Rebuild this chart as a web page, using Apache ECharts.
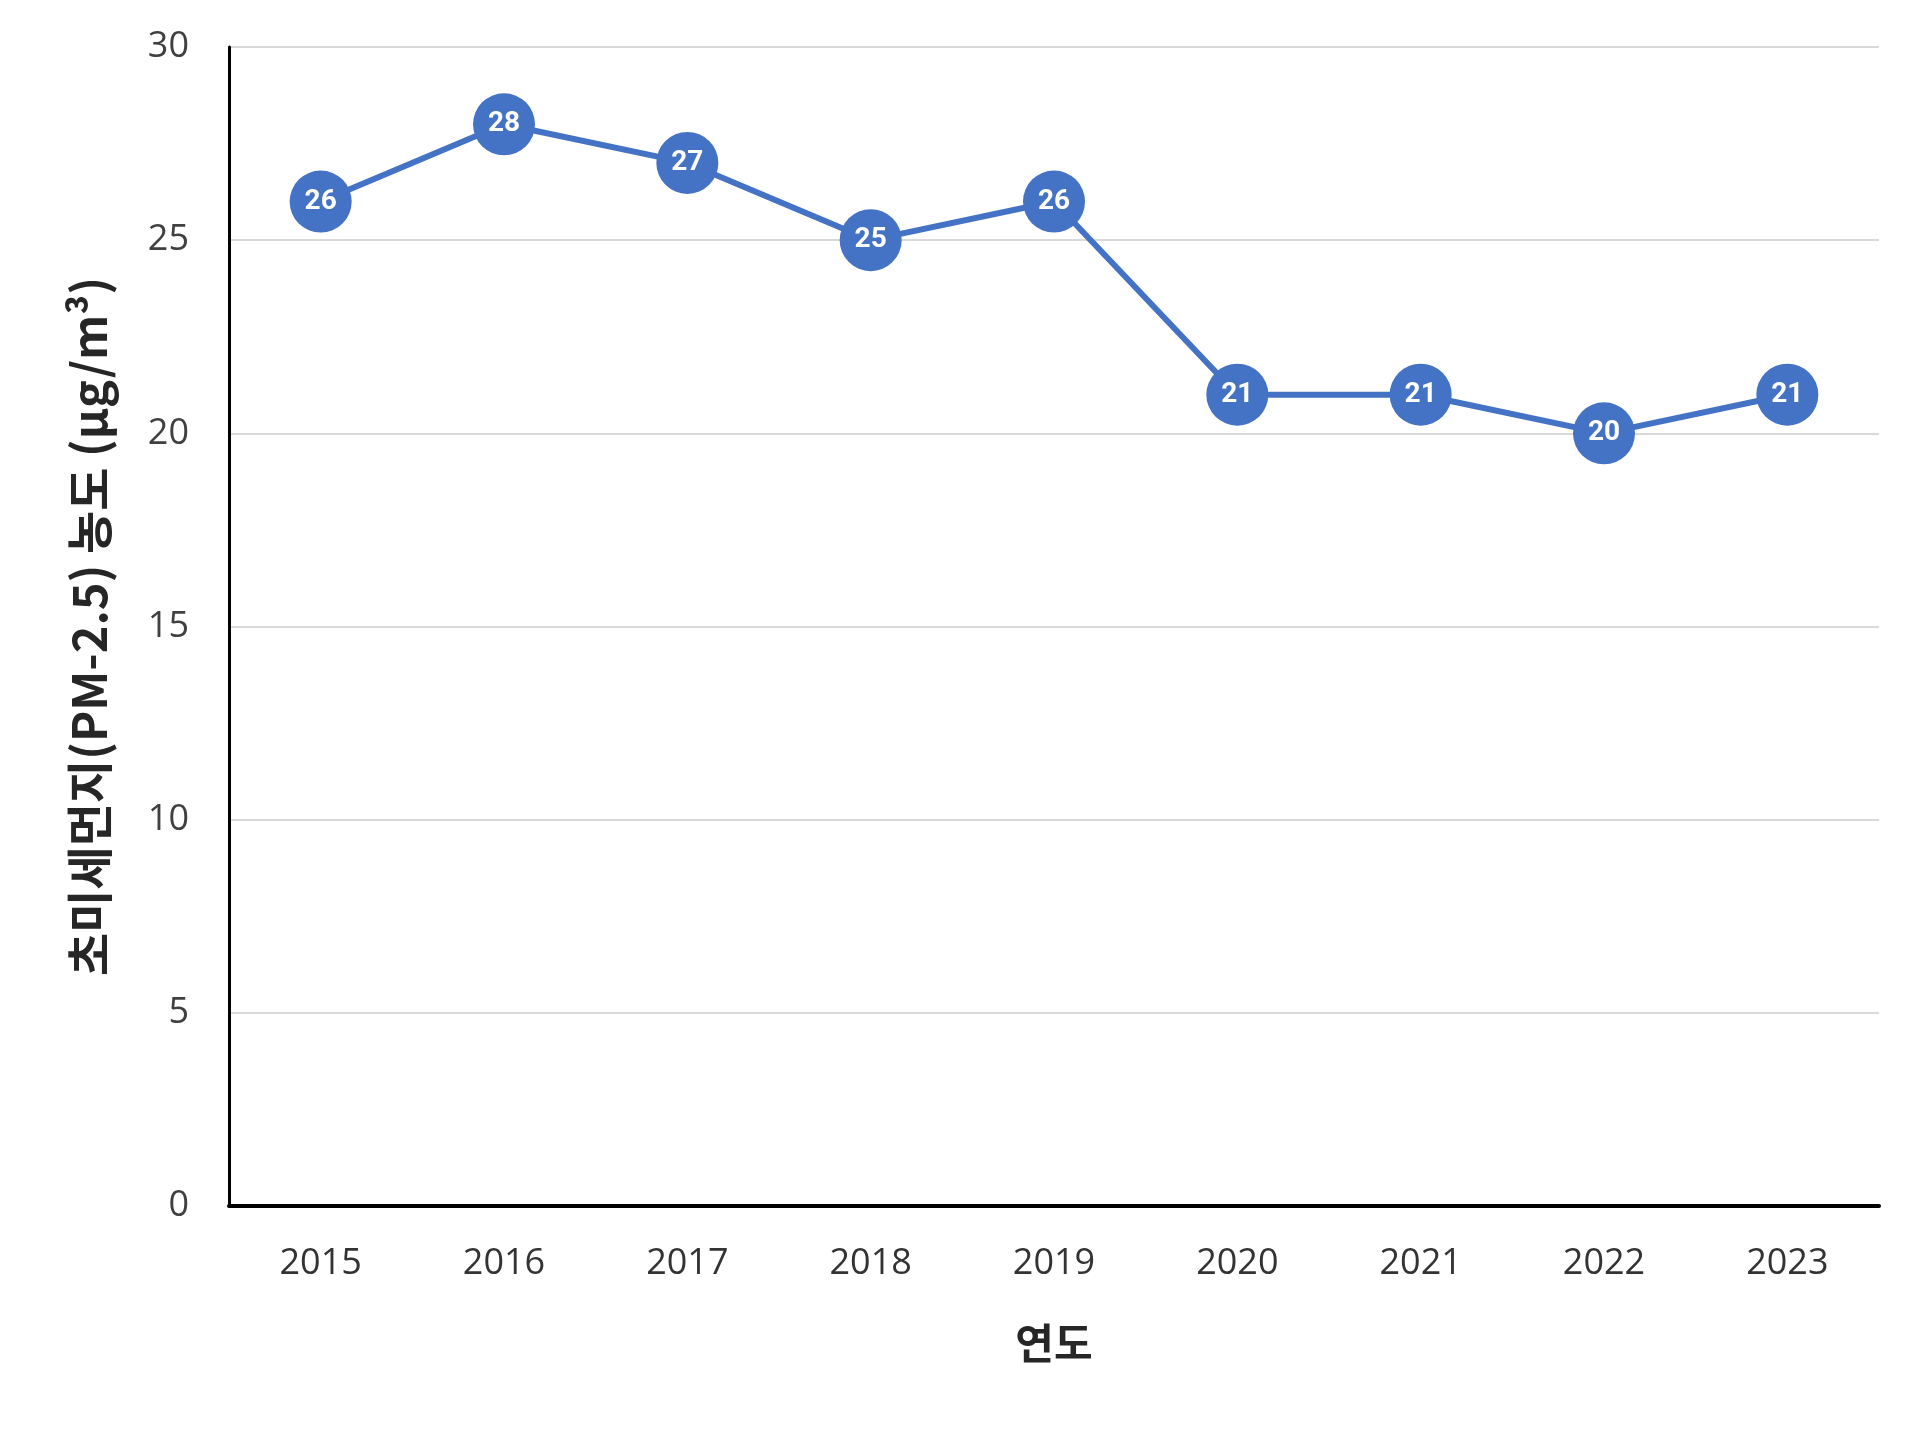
<!DOCTYPE html>
<html>
<head>
<meta charset="utf-8">
<script src="https://cdn.jsdelivr.net/npm/echarts@6/dist/echarts.min.js"></script>
<style>
  html, body { margin: 0; padding: 0; background: #fff; }
  #chart { width: 1920px; height: 1430px; }
</style>
</head>
<body>
<div id="chart"></div>
<script>
var years = ['2015', '2016', '2017', '2018', '2019', '2020', '2021', '2022', '2023']
var pm25 = [26, 28, 27, 25, 26, 21, 21, 20, 21]
var yTicks = [0, 5, 10, 15, 20, 25, 30]

var blue = '#4472C4'
var tickFont = '"Open Sans", "Noto Sans", sans-serif'

var myChart = echarts.init(document.getElementById('chart'))

var option = {
    backgroundColor: '#fff',
    animation: false,
    grid: { left: 229, right: 41, top: 47, bottom: 224 },
    xAxis: {
        type: 'category',
        data: years,
        boundaryGap: true,
        name: '연도',
        nameLocation: 'middle',
        nameGap: 116,
        nameTextStyle: { fontSize: 42, fontWeight: 'bold', color: '#262626', fontFamily: '"Noto Sans CJK KR", sans-serif' },
        axisLine: { lineStyle: { color: '#000', width: 4 } },
        axisTick: { show: false },
        axisLabel: { fontSize: 36, color: '#333', margin: 40, fontFamily: tickFont }
    },
    yAxis: {
        type: 'value',
        min: yTicks[0],
        max: yTicks[yTicks.length - 1],
        interval: 5,
        name: '초미세먼지(PM-2.5) 농도 (μg/m³)',
        nameLocation: 'middle',
        nameGap: 116,
        nameTextStyle: { fontSize: 47, fontWeight: 'bold', color: '#262626', fontFamily: '"Noto Sans CJK KR", sans-serif' },
        axisLine: { show: true, lineStyle: { color: '#000', width: 3 } },
        axisTick: { show: false },
        axisLabel: { fontSize: 36, color: '#404040', margin: 40, fontFamily: tickFont },
        splitLine: { lineStyle: { color: '#d9d9d9', width: 2 } }
    },
    series: [{
        type: 'line',
        data: pm25,
        symbol: 'circle',
        symbolSize: 62,
        lineStyle: { color: blue, width: 6 },
        itemStyle: { color: blue },
        label: {
            show: true,
            position: 'inside',
            color: '#fff',
            fontSize: 28,
            fontWeight: 'bold',
            fontFamily: '"Liberation Sans Narrow", "Roboto", sans-serif'
        }
    }]
}

myChart.setOption(option)
</script>
</body>
</html>
